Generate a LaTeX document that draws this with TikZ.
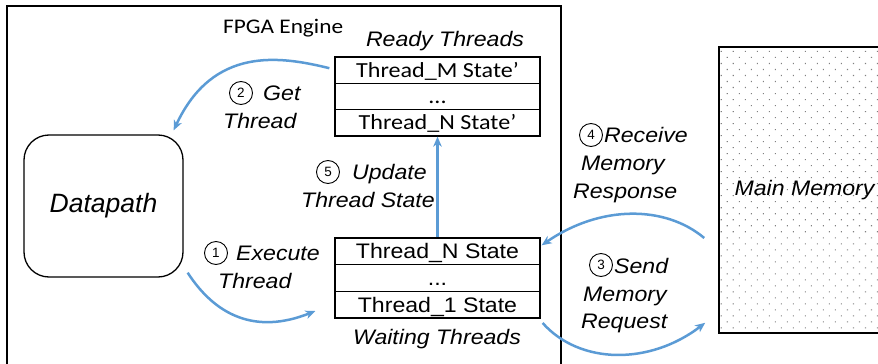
\documentclass[tikz,border=0pt]{standalone}
\usepackage{fontspec}
\setmainfont{Liberation Sans}
\newfontfamily\calfont[FakeStretch=1.12]{Carlito}
\newfontfamily\arifont[FakeStretch=1.1]{Liberation Sans}
\usetikzlibrary{arrows.meta,patterns.meta}
\definecolor{flowblue}{RGB}{91,155,213}

\begin{document}
\begin{tikzpicture}[x=1pt,y=-1pt,
  frame/.style={draw=black,line width=1.3pt},
  rowcal/.style={draw=black,line width=1.3pt,minimum width=205pt,minimum height=26.4pt,
    inner sep=0pt,text height=13.8pt,text depth=0pt,
    font=\calfont\fontsize{21.5}{24}\selectfont},
  rowari/.style={draw=black,line width=1.3pt,minimum width=205pt,minimum height=26.7pt,
    inner sep=0pt,text height=15pt,text depth=0pt,
    font=\arifont\fontsize{21}{24}\selectfont},
  lab/.style={inner sep=0pt,anchor=base west,font=\arifont\itshape\fontsize{21}{24}\selectfont},
  cnum/.style={circle,draw=black,line width=0.9pt,minimum size=23pt,inner sep=0pt,
    font=\fontsize{13.5}{13.5}\selectfont},
  flow/.style={draw=flowblue,line width=2.5pt,-{Stealth[length=10pt,width=8.5pt,inset=3pt]}}]

\useasboundingbox (0,0) rectangle (878,364);
\clip (0,0) rectangle (878,364);

% FPGA engine enclosure
\draw[frame] (7,6) rectangle (561,400);
\node[inner sep=0pt,anchor=base west,font=\calfont\fontsize{20.8}{24}\selectfont] (fpga) at (223,33) {FPGA Engine};

% ready threads queue
\node[lab,anchor=base] (rlab) at (445,46) {Ready Threads};
\node[rowcal] (rm) at (437.5,70.2) {Thread\_M State’};
\node[rowcal] (rd) at (437.5,96.5) {...};
\node[rowcal] (rn) at (437.5,122.8) {Thread\_N State’};

% waiting threads queue
\node[rowari] (wn) at (437.5,251.3) {Thread\_N State};
\node[rowari] (wd) at (437.5,277.8) {...};
\node[rowari] (w1) at (437.5,304.5) {Thread\_1 State};
\node[lab,anchor=base] (wlab) at (437,344) {Waiting Threads};

% datapath
\node[draw=black,line width=1.3pt,rounded corners=25pt,minimum width=159pt,minimum height=142pt,
  inner sep=0pt,font=\itshape\fontsize{26.5}{30}\selectfont] (dp) at (103.5,206) {Datapath};

% main memory
\node[draw=black,line width=1.6pt,minimum width=171pt,minimum height=286pt,inner sep=0pt,
  pattern={Dots[distance=8.5pt,angle=45,radius=0.75pt]},pattern color=black!50,
  font=\arifont\itshape\fontsize{21}{24}\selectfont] (mem) at (804.5,190) {Main Memory};

% step labels
\node[cnum] (c2) at (241,93) {2};
\node[lab] (l2a) at (263,100) {Get};
\node[lab] (l2b) at (223,128) {Thread};

\node[cnum] (c5) at (328,172) {5};
\node[lab] (l5a) at (352,179) {Update};
\node[lab] (l5b) at (301,207) {Thread State};

\node[cnum] (c1) at (216,253) {1};
\node[lab] (l1a) at (236,260) {Execute};
\node[lab] (l1b) at (218,288) {Thread};

\node[cnum] (c4) at (591,135) {4};
\node[lab] (l4a) at (604,142) {Receive};
\node[lab] (l4b) at (581,170) {Memory};
\node[lab] (l4c) at (573,198) {Response};

\node[cnum] (c3) at (601,265) {3};
\node[lab] (l3a) at (614,273) {Send};
\node[lab] (l3b) at (583,301) {Memory};
\node[lab] (l3c) at (581,328) {Request};

% flows between the blocks
\draw[flow] ([shift={(-5,-2)}]rm.west) .. controls (280,56) and (213,46) .. ([shift={(-10,-4)}]dp.north east);
\draw[flow] ([shift={(4,-5)}]dp.south east) .. controls (215,315) and (255,335) .. ([shift={(-19,6.5)}]w1.west);
\draw[flow] (wn.north) -- (rn.south);
\draw[flow] ([shift={(-14,48)}]mem.west) .. controls (665,205) and (600,205) .. ([shift={(1,-6)}]wn.east);
\draw[flow] ([shift={(2,18.5)}]w1.east) .. controls (580,365) and (650,365) .. ([shift={(-13,-11)}]mem.south west);
\end{tikzpicture}
\end{document}
